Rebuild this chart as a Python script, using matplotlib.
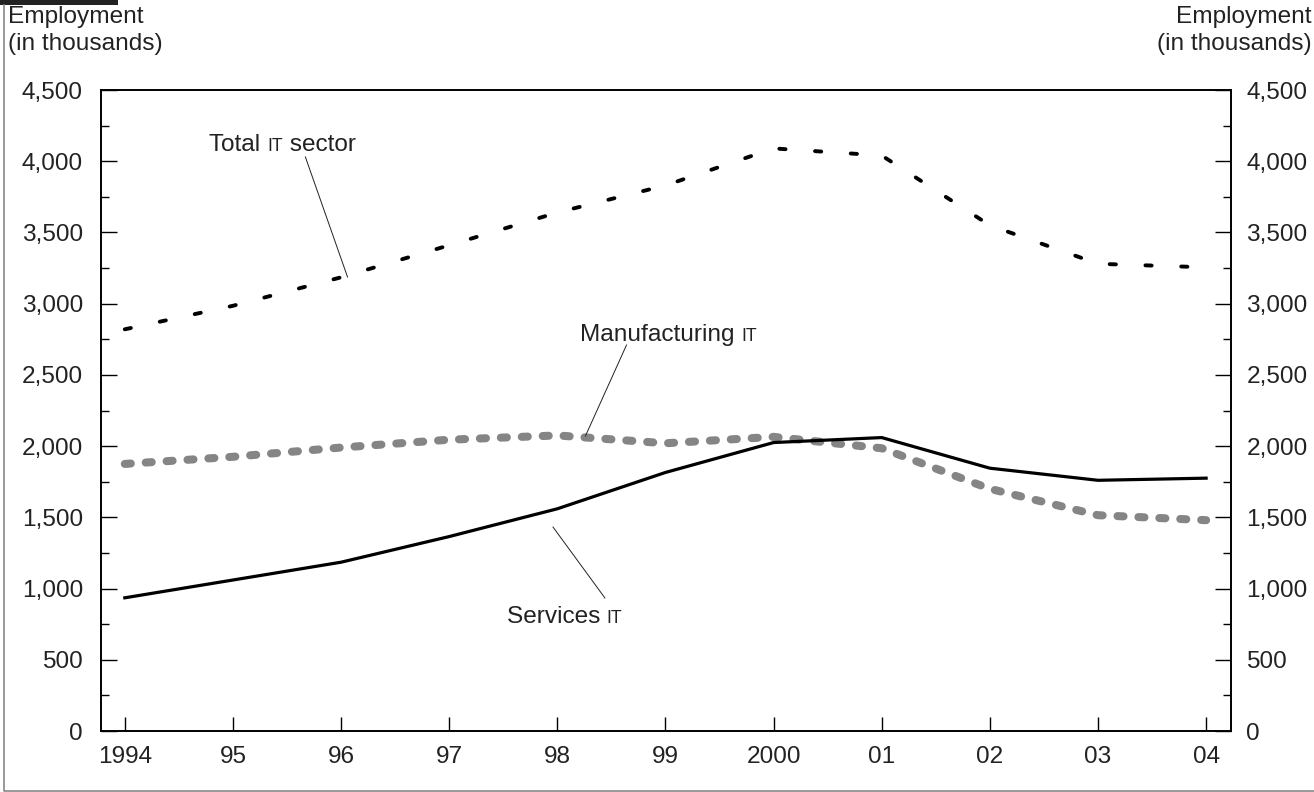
#!/usr/bin/env python3
# -*- coding: utf-8 -*-

import matplotlib
matplotlib.use("Agg")
import matplotlib.pyplot as plt
from matplotlib.lines import Line2D
from matplotlib.patches import Rectangle
from matplotlib.ticker import MultipleLocator, FuncFormatter

years = [1994, 1995, 1996, 1997, 1998, 1999, 2000, 2001, 2002, 2003, 2004]
year_labels = ["1994", "95", "96", "97", "98", "99", "2000", "01", "02", "03", "04"]
total_it = [2820, 2985, 3185, 3410, 3640, 3830, 4090, 4040, 3550, 3280, 3255]
services_it = [935, 1060, 1185, 1365, 1560, 1815, 2025, 2060, 1845, 1760, 1775]
manufacturing_it = [1875, 1925, 1990, 2045, 2075, 2020, 2065, 1985, 1700, 1515, 1480]

plt.rcParams["font.family"] = ["Liberation Sans", "DejaVu Sans"]
FS = 17.6
TXT = "#222222"

W, H = 1314, 792
fig = plt.figure(figsize=(W / 100, H / 100), dpi=100)
ax = fig.add_axes([101 / W, 1 - 731 / H, (1231 - 101) / W, (731 - 90) / H])

ax.plot(years, services_it, color="black", linewidth=2.3, solid_joinstyle="miter", zorder=3)
ax.plot(years, manufacturing_it, color="#858585", linewidth=5.8,
        linestyle=(0, (0.75, 1.85)), dash_capstyle="round", zorder=2)
ax.plot(years, total_it, color="black", linewidth=2.8,
        linestyle=(0, (1.6, 7.6)), dash_capstyle="round", zorder=3)

ax.set_xlim(1993.78, 2004.23)
ax.set_ylim(0, 4500)
ax.set_xticks(years)
ax.set_xticklabels(year_labels)
ax.yaxis.set_major_locator(MultipleLocator(500))
ax.yaxis.set_minor_locator(MultipleLocator(250))
ax.yaxis.set_major_formatter(FuncFormatter(lambda v, p: f"{int(v):,}"))

for s in ax.spines.values():
    s.set_linewidth(1.4)
ax.tick_params(axis="y", which="major", direction="in", length=11.5, width=1.0,
               left=True, right=True, labelleft=True, labelright=True,
               labelsize=FS, pad=11, labelcolor=TXT)
ax.tick_params(axis="y", which="minor", direction="in", length=5.8, width=1.0,
               left=True, right=True)
ax.tick_params(axis="x", direction="in", length=10, width=1.0, labelsize=FS,
               pad=11, labelcolor=TXT)
# left labels sit a bit farther than the right ones
for t in ax.yaxis.get_major_ticks():
    t.label1.set_x(-0.0025)

fig.canvas.draw()
renderer = fig.canvas.get_renderer()


def rich_label(x, y, parts):
    # draw text pieces side by side; "IT" is set in small caps
    cur = ax.transData.transform((x, y))
    for s, size in parts:
        xd, yd = ax.transData.inverted().transform(cur)
        t = ax.text(xd, yd, s, fontsize=size, color=TXT, ha="left", va="baseline")
        bb = t.get_window_extent(renderer)
        cur = (bb.x1, cur[1])


rich_label(1994.78, 4075, [("Total ", FS), ("IT", FS * 0.72), (" sector", FS)])
rich_label(1998.21, 2740, [("Manufacturing ", FS), ("IT", FS * 0.72)])
rich_label(1997.53, 755, [("Services ", FS), ("IT", FS * 0.72)])

ax.plot([1995.67, 1996.06], [4030, 3187], color="#222222", linewidth=0.7, zorder=4)
ax.plot([1998.64, 1998.26], [2710, 2071], color="#222222", linewidth=0.7, zorder=4)
ax.plot([1998.44, 1997.96], [934, 1432], color="#222222", linewidth=0.7, zorder=4)

fig.text(8 / W, 1 - 6 / H, "Employment\n(in thousands)", fontsize=FS, color=TXT,
         ha="left", va="top", linespacing=1.3)
fig.text(1312 / W, 1 - 6 / H, "Employment\n(in thousands)", fontsize=FS, color=TXT,
         ha="right", va="top", linespacing=1.3, multialignment="right")

# outer frame (left and bottom only) and corner bar
fig.lines.append(Line2D([3.5 / W, 3.5 / W, 1.0], [1 - 5 / H, 1.2 / H, 1.2 / H],
                        transform=fig.transFigure, color="#888888", linewidth=1.2))
fig.patches.append(Rectangle((0, 1 - 5 / H), 118 / W, 5 / H,
                             transform=fig.transFigure, facecolor="#222222",
                             edgecolor="none"))

fig.savefig("out.png", dpi=100)
plt.close(fig)
